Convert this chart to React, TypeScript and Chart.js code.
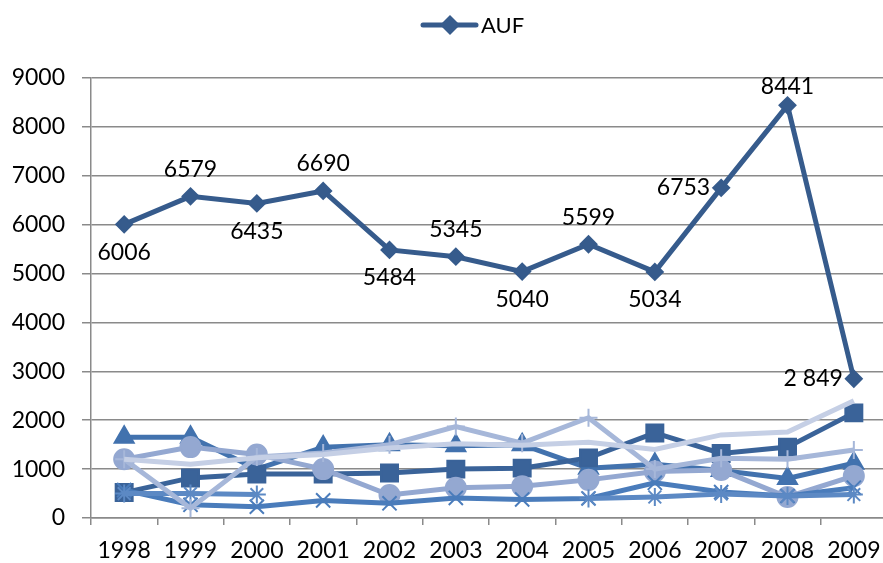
import React, { useEffect, useRef } from 'react';
import { Chart, registerables } from 'chart.js';

Chart.register(...registerables);

const years = ['1998', '1999', '2000', '2001', '2002', '2003', '2004', '2005', '2006', '2007', '2008', '2009'];
const aufValues = [6006, 6579, 6435, 6690, 5484, 5345, 5040, 5599, 5034, 6753, 8441, 2849];
const aufLabels = ['6006', '6579', '6435', '6690', '5484', '5345', '5040', '5599', '5034', '6753', '8441', '2 849'];
const aufLabelPlacement = ['below', 'above', 'below', 'above', 'below', 'above', 'below', 'above', 'below', 'left', 'aboveClose', 'left'];
const plainValues = [1200, 1100, 1230, 1300, 1430, 1520, 1490, 1550, 1400, 1700, 1760, 2400];
const plusValues = [1200, 200, 1250, 1330, 1500, 1870, 1530, 2050, 1000, 1220, 1200, 1390];
const starValues = [500, 500, 480, null, null, null, null, 400, 430, 490, 450, 480];
const xValues = [570, 270, 230, 360, 300, 410, 380, 400, 720, 530, 450, 620];
const circleValues = [1200, 1450, 1300, 1000, 470, 620, 650, 780, 950, 980, 430, 860];
const squareValues = [520, 820, 900, 900, 920, 1000, 1020, 1230, 1740, 1320, 1450, 2150];
const triangleValues = [1650, 1650, 1000, 1450, 1500, 1480, 1500, 1020, 1100, 970, 810, 1120];
const yTicks = [0, 1000, 2000, 3000, 4000, 5000, 6000, 7000, 8000, 9000];

const FONT = 'Lato, "Open Sans", sans-serif';
const GRID = '#8a8a8a';
const AUF_COLOR = '#365B8C';

function series(label: string, data: (number | null)[], color: string, pointStyle: any, radius: number) {
  return {
    label,
    data,
    borderColor: color,
    backgroundColor: color,
    borderWidth: 5,
    pointStyle,
    pointRadius: radius,
    pointBorderWidth: 2,
    pointBorderColor: color,
    pointBackgroundColor: color,
    tension: 0,
    spanGaps: false,
  };
}

export default function App() {
  const ref = useRef<HTMLCanvasElement>(null);

  useEffect(() => {
    const canvas = ref.current;
    if (!canvas) return;

    const overlay = {
      id: 'aufOverlay',
      afterDatasetsDraw(chart: any) {
        const ctx = chart.ctx;
        const meta = chart.getDatasetMeta(0);
        ctx.save();
        ctx.font = `23px ${FONT}`;
        ctx.fillStyle = '#000';
        ctx.textBaseline = 'middle';
        meta.data.forEach((pt: any, i: number) => {
          const p = aufLabelPlacement[i];
          let x = pt.x;
          let y = pt.y;
          if (p === 'above') { ctx.textAlign = 'center'; y -= 27; }
          else if (p === 'aboveClose') { ctx.textAlign = 'center'; y -= 19; }
          else if (p === 'below') { ctx.textAlign = 'center'; y += 28; }
          else { ctx.textAlign = 'right'; x -= 11; }
          ctx.fillText(aufLabels[i], x, y);
        });
        // legend (only AUF shown)
        const ly = 25;
        ctx.strokeStyle = AUF_COLOR;
        ctx.lineWidth = 5;
        ctx.lineCap = 'round';
        ctx.beginPath();
        ctx.moveTo(423, ly);
        ctx.lineTo(476, ly);
        ctx.stroke();
        ctx.fillStyle = AUF_COLOR;
        ctx.beginPath();
        ctx.moveTo(440, ly);
        ctx.lineTo(450, ly - 10);
        ctx.lineTo(460, ly);
        ctx.lineTo(450, ly + 10);
        ctx.closePath();
        ctx.fill();
        ctx.fillStyle = '#000';
        ctx.textAlign = 'left';
        ctx.font = `22px ${FONT}`;
        ctx.fillText('AUF', 481, ly + 1);
        ctx.restore();
      },
    };

    const chart = new Chart(canvas, {
      type: 'line',
      data: {
        labels: years,
        datasets: [
          series('AUF', aufValues, AUF_COLOR, 'rectRot', 8),
          series('S7', plainValues, '#C5CFE5', 'circle', 0),
          series('S6', plusValues, '#A6B7D9', 'cross', 9),
          series('S5', starValues, '#5C89C4', 'star', 9),
          series('S4', xValues, '#4A7CBB', 'crossRot', 10),
          series('S3', circleValues, '#94A8D1', 'circle', 10),
          series('S2', squareValues, '#3A6399', 'rect', 12),
          series('S1', triangleValues, '#4272AE', 'triangle', 11),
        ] as any,
      },
      options: {
        animation: false,
        responsive: true,
        maintainAspectRatio: false,
        events: [],
        layout: { padding: { top: 78, right: 8, left: 0, bottom: 0 } },
        plugins: {
          legend: { display: false },
          tooltip: { enabled: false },
        },
        scales: {
          x: {
            offset: true,
            grid: {
              offset: true,
              drawOnChartArea: false,
              drawTicks: true,
              tickLength: 7,
              color: GRID,
              lineWidth: 1.5,
            },
            border: { color: GRID, width: 1.5 },
            ticks: {
              color: '#000',
              font: { family: FONT, size: 23 },
              padding: 12,
              maxRotation: 0,
              autoSkip: false,
            },
            afterFit(s: any) { s.height = 45; },
          },
          y: {
            min: 0,
            max: 9000,
            afterBuildTicks(s: any) { s.ticks = yTicks.map((v) => ({ value: v })); },
            grid: { color: GRID, lineWidth: 1.5, tickLength: 9, drawTicks: true },
            border: { color: GRID, width: 1.5 },
            ticks: {
              color: '#000',
              font: { family: FONT, size: 23 },
              padding: 17,
              callback: (v: any) => String(v),
            },
            afterFit(s: any) { s.width = 91; },
          },
        },
      },
      plugins: [overlay],
    });

    return () => chart.destroy();
  }, []);

  return (
    <div style={{ position: 'fixed', left: 0, top: 0, width: 883, height: 563, overflow: 'hidden', background: '#fff' }}>
      <div style={{ position: 'relative', width: 901, height: 563 }}>
        <canvas ref={ref} />
      </div>
    </div>
  );
}
